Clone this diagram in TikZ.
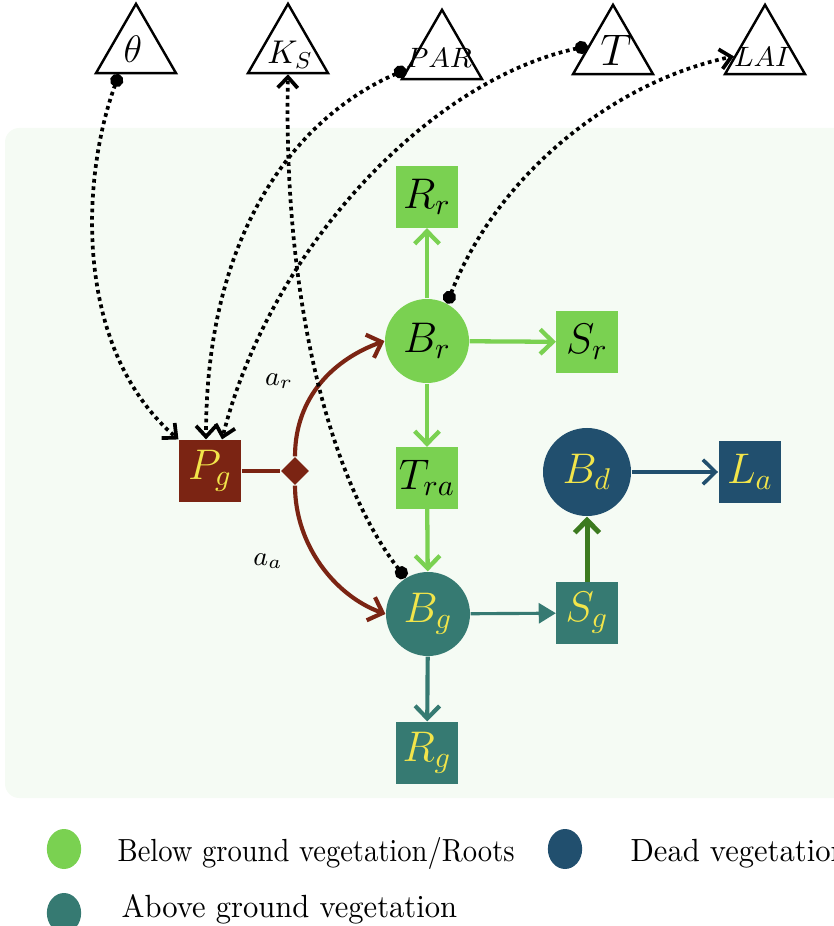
\RequirePackage{fix-cm}
\documentclass[tikz,border=0pt]{standalone}
\usetikzlibrary{arrows.meta,shapes.geometric,calc}
\definecolor{lgreen}{HTML}{7AD151}
\definecolor{tealc}{HTML}{367A72}
\definecolor{dblue}{HTML}{214F6E}
\definecolor{dred}{HTML}{7B2413}
\definecolor{dgreen}{HTML}{3C7A1F}
\definecolor{ytext}{HTML}{F2E54A}
\definecolor{bgc}{HTML}{F5FBF4}
\newcommand{\myfs}[1]{\fontsize{#1}{#1}\selectfont}
\begin{document}
\begin{tikzpicture}[x=0.35pt,y=-0.35pt,
  tri/.style={regular polygon, regular polygon sides=3, draw=black, fill=white, line width=0.85pt, minimum size=32.3pt, inner sep=0pt},
  circ/.style={circle, minimum size=29.4pt, inner sep=0pt, font=\myfs{15}},
  sq/.style={rectangle, minimum size=21.4pt, inner sep=0pt, font=\myfs{15}},
  dia/.style={diamond, fill=dred, minimum size=9.8pt, inner sep=0pt},
  barbtip/.style={-{Straight Barb[length=4.4pt,width=8.6pt]}},
  lgarrow/.style={lgreen, line width=1.5pt, barbtip},
  tlarrow/.style={tealc, line width=1.45pt, barbtip},
  tlthin/.style={tealc, line width=1.1pt, -{Triangle[length=6pt,width=7pt]}},
  dgarrow/.style={dgreen, line width=1.75pt, barbtip},
  dbarrow/.style={dblue, line width=1.25pt, barbtip},
  drline/.style={dred, line width=1.45pt},
  dotc/.style={line width=1.3pt, dash pattern=on 1.3pt off 1.3pt, {Circle[length=4.6pt]}-{Straight Barb[length=3.8pt,width=7pt]}},
  legc/.style={ellipse, minimum width=12pt, minimum height=14pt, inner sep=0pt},
  legt/.style={anchor=base west, inner sep=0pt}
]
\useasboundingbox (0,0) rectangle (833,926);
\fill[bgc, rounded corners=5pt] (5,128) rectangle (870,798);

% triangles
\node[tri] (theta) at (136,50) {};
\node[tri] (KS) at (288,50) {};
\node[tri] (PAR) at (442,56) {};
\node[tri] (T) at (613,51) {};
\node[tri] (LAI) at (765,51) {};
\node[font=\myfs{13.4}, inner sep=0pt] (thetaL) at (133,49) {$\theta$};
\node[font=\myfs{11.5}, inner sep=0pt] (KSL) at (290,55) {$K_S$};
\node[font=\myfs{9.8}, inner sep=0pt] (PARL) at (439,58) {$PAR$};
\node[font=\myfs{15.5}, inner sep=0pt] (TL) at (616,50) {$T$};
\node[font=\myfs{9.8}, inner sep=0pt] (LAIL) at (762,57) {$LAI$};

% main nodes
\node[sq, fill=dred, text=ytext, minimum size=21.7pt] (Pg) at (210,471) {$P_g$};
\node[dia] (dm) at (295,471) {};
\node[circ, fill=lgreen] (Br) at (427,341) {$B_r$};
\node[sq, fill=lgreen] (Rr) at (427,197) {$R_r$};
\node[sq, fill=lgreen] (Sr) at (587,342) {$S_r$};
\node[sq, fill=lgreen] (Tra) at (427,478) {$T_{ra}$};
\node[circ, fill=tealc, text=ytext] (Bg) at (428,614) {$B_g$};
\node[sq, fill=tealc, text=ytext, minimum size=21.7pt] (Rg) at (427,753) {$R_g$};
\node[sq, fill=tealc, text=ytext] (Sg) at (587,613) {$S_g$};
\node[circ, fill=dblue, text=ytext, minimum size=30.8pt] (Bd) at (587,472) {$B_d$};
\node[sq, fill=dblue, text=ytext, minimum size=22pt] (La) at (750,472) {$L_a$};

% labels
\node[font=\myfs{9.5}, inner sep=0pt] (ar) at (279,381) {$a_r$};
\node[font=\myfs{9.5}, inner sep=0pt] (aa) at (268,561) {$a_a$};

% flows
\draw[lgarrow] (Br) -- (Rr);
\draw[lgarrow] (Br) -- (Sr);
\draw[lgarrow] (Br) -- (Tra);
\draw[lgarrow] (Tra) -- (Bg);
\draw[tlarrow] (Bg) -- (Rg);
\draw[tlthin] (Bg) -- (Sg);
\draw[dgarrow] (Sg) -- (Bd);
\draw[dbarrow] (Bd) -- (La);
\draw[drline] (Pg) -- (dm);
\draw[drline, barbtip] (dm.north) .. controls +(0,-60) and +(-50,18) .. (Br.west);
\draw[drline, barbtip] (dm.south) .. controls +(0,60) and +(-50,-18) .. (Bg.west);

% dotted influences
\draw[dotc] ($(theta.south)+(-17,0)$) .. controls +(-39,107) and +(-104,-90) .. (Pg.north west);
\draw[dotc] ($(PAR.corner 1)!0.85!(PAR.corner 2)$) .. controls +(-108,47) and +(0,-210) .. ($(Pg.north)+(-4,0)$);
\draw[dotc] ($(T.corner 1)!0.6!(T.corner 2)$) .. controls +(-159,34) and +(48,-190) .. ($(Pg.north)+(12,0)$);
\draw[dotc] (Bg.122) .. controls +(-75,-97) and +(-5,227) .. (KS.south);
\draw[dotc] (Br.62) .. controls +(53,-134) and +(-115,24) .. ($(LAI.corner 1)!0.74!(LAI.corner 2)$);

% legend
\node[legc, fill=lgreen] (l1) at (64,849) {};
\node[legt] (t1) at (117,861) {\scalebox{1}[1.12]{\myfs{10}Below ground vegetation/Roots}};
\node[legc, fill=dblue] (l2) at (565,849) {};
\node[legt] (t2) at (630,861) {\scalebox{1}[1.05]{\myfs{10.7}Dead vegetation}};
\node[legc, fill=tealc] (l3) at (64,913) {};
\node[legt] (t3) at (121,917) {\scalebox{1}[1.05]{\myfs{10.7}Above ground vegetation}};
\end{tikzpicture}
\end{document}
